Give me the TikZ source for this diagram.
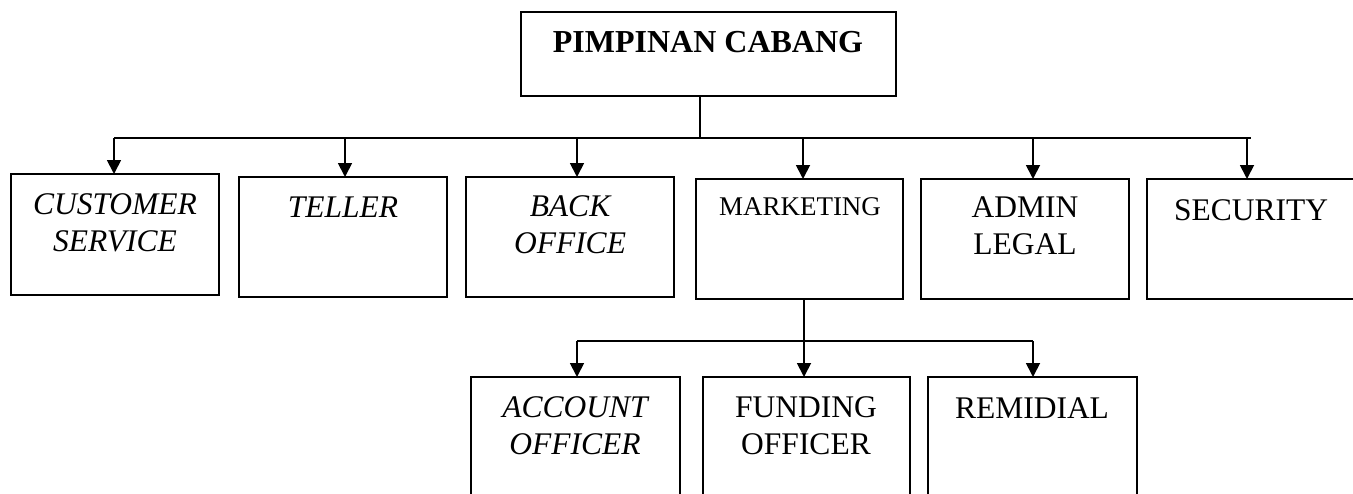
\documentclass[tikz,border=0pt]{standalone}
\usepackage{fontspec}
\setmainfont{Liberation Serif}
\usetikzlibrary{arrows.meta}
\begin{document}
\begin{tikzpicture}[x=1pt,y=-1pt,
  box/.style={draw,line width=1.8pt,rectangle,inner sep=0pt,outer sep=0pt,anchor=north west},
  lbl/.style={inner sep=0pt,outer sep=0pt,align=center},
  it/.style={lbl,font=\itshape\fontsize{31.5}{37}\selectfont},
  rm/.style={lbl,font=\fontsize{31.5}{37}\selectfont},
  arr/.style={line width=1.8pt,-{Triangle[width=14pt,length=14pt]}},
  ln/.style={line width=1.8pt}]
\useasboundingbox (0,0) rectangle (1353,493);
\clip (0,0) rectangle (1353,493);
% boxes
\node[box,minimum width=375pt,minimum height=84pt] (top) at (521,12) {};
\node[box,minimum width=208pt,minimum height=121pt] (cs) at (11,174) {};
\node[box,minimum width=208pt,minimum height=120pt] (tel) at (239,177) {};
\node[box,minimum width=208pt,minimum height=120pt] (back) at (466,177) {};
\node[box,minimum width=207pt,minimum height=120pt] (mkt) at (696,179) {};
\node[box,minimum width=208pt,minimum height=120pt] (adm) at (921,179) {};
\node[box,minimum width=215pt,minimum height=120pt] (sec) at (1147,179) {};
\node[box,minimum width=209pt,minimum height=140pt] (acc) at (471,377) {};
\node[box,minimum width=207pt,minimum height=140pt] (fund) at (703,377) {};
\node[box,minimum width=209pt,minimum height=140pt] (rem) at (928,377) {};
% texts
\node[lbl,anchor=base,font=\bfseries\fontsize{32}{37}\selectfont] (ttop) at (708,52) {PIMPINAN CABANG};
\node[it,anchor=north] (tcs) at (115,193.5) {CUSTOMER\\SERVICE};
\node[it,anchor=base] (ttel) at (343,217) {TELLER};
\node[it,anchor=north] (tback) at (570,195.5) {BACK\\OFFICE};
\node[lbl,anchor=base,font=\fontsize{27}{32}\selectfont] (tmkt) at (800,215) {MARKETING};
\node[rm,anchor=north] (tadm) at (1025,197) {ADMIN\\LEGAL};
\node[rm,anchor=base] (tsec) at (1251,220) {SECURITY};
\node[it,anchor=north] (tacc) at (575,396.5) {ACCOUNT\\OFFICER};
\node[rm,anchor=north] (tfund) at (806,396.5) {FUNDING\\OFFICER};
\node[rm,anchor=base] (trem) at (1032,418) {REMIDIAL};
% bus coordinates
\coordinate (bus) at (700,138);
\coordinate (b1) at (114,138);
\coordinate (b2) at (345,138);
\coordinate (b3) at (577,138);
\coordinate (b4) at (803,138);
\coordinate (b5) at (1033,138);
\coordinate (b6) at (1247,138);
\coordinate (bend) at (1251,138);
\coordinate (mbus) at (804,341);
\coordinate (m1) at (577,341);
\coordinate (m3) at (1033,341);
% connectors
\draw[ln] (top.south -| bus) -- (bus);
\draw[ln] (b1) -- (bend);
\draw[arr] (b1) -- (b1 |- cs.north);
\draw[arr] (b2) -- (b2 |- tel.north);
\draw[arr] (b3) -- (b3 |- back.north);
\draw[arr] (b4) -- (b4 |- mkt.north);
\draw[arr] (b5) -- (b5 |- adm.north);
\draw[arr] (b6) -- (b6 |- sec.north);
\draw[ln] (mkt.south -| mbus) -- (mbus);
\draw[ln] (m1) -- (m3);
\draw[arr] (m1) -- (m1 |- acc.north);
\draw[arr] (mbus) -- (mbus |- fund.north);
\draw[arr] (m3) -- (m3 |- rem.north);
\end{tikzpicture}
\end{document}
